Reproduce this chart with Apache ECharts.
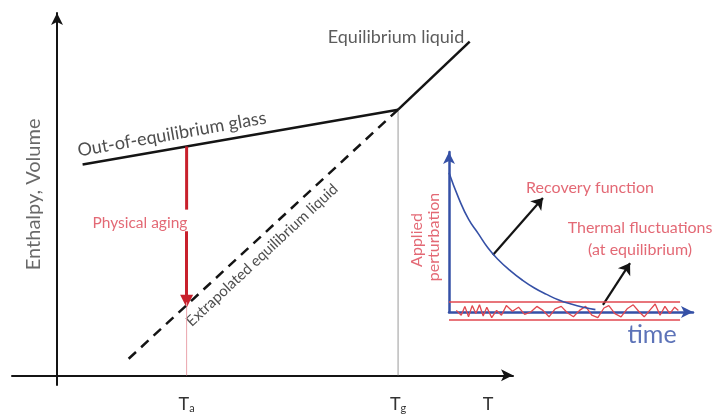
<!DOCTYPE html>
<html>
<head>
<meta charset="utf-8">
<script src="https://cdn.jsdelivr.net/npm/echarts@6/dist/echarts.min.js"></script>
<style>
  html, body { margin: 0; padding: 0; background: #fff; }
  #chart { width: 718px; height: 414px; }
</style>
</head>
<body>
<div id="chart"></div>
<script>
// ---- Main diagram: enthalpy/volume vs temperature (arbitrary units, Tg = 10) ----
const tickValues = [3.8, 10, 12.64];
const tickLabels = ['{m|T}{s|a}', '{m|T}{s|g}', '{m|T}'];

const glassLine = [[0.75, 6.35], [10, 8.0]];
const liquidLine = [[10, 8.0], [12.1, 10.05]];
const extrapolatedLine = [[2.1, 0.5], [10, 8.0]];
const tgGuide = [[10, 0], [10, 8.0]];
const taGuide = [[3.8, 0], [3.8, 2.2]];
const agingUpper = [[3.8, 6.89], [3.8, 4.99]];
const agingLower = [[3.8, 4.34], [3.8, 2.23]];

const mainTexts = ['Out-of-equilibrium glass', 'Equilibrium liquid', 'Extrapolated equilibrium liquid', 'Enthalpy, Volume', 'Physical aging'];
const mainTextAt = [[3.37, 7.26], [9.94, 10.18], [6.01, 3.62], [-0.7, 5.45], [2.43, 4.6]];

// ---- Inset: relaxation after a perturbation vs time ----
const recoveryCurve = [
  [0, 8.7], [0.4, 7.1], [0.8, 5.8], [1.2, 4.9], [1.6, 4.0], [2.0, 3.3], [2.5, 2.6],
  [3.0, 2.0], [3.5, 1.5], [4.0, 1.1], [4.5, 0.75], [5.0, 0.5], [5.5, 0.3], [6.0, 0.15]
];
const fluctuation = [
  [0.3, 0.1], [0.5, -0.2], [0.65, 0.35], [0.8, -0.3], [0.95, 0.4], [1.1, -0.1], [1.25, 0.45],
  [1.4, -0.25], [1.55, 0.3], [1.75, -0.35], [1.95, 0.1], [2.15, -0.2], [2.35, 0.4], [2.6, 0.05],
  [2.85, 0.3], [3.1, -0.15], [3.35, 0.0], [3.6, 0.35], [3.85, 0.1], [4.1, -0.3], [4.35, 0.2],
  [4.6, 0.35], [4.85, -0.05], [5.1, -0.3], [5.35, 0.1], [5.6, 0.35], [5.85, -0.2], [6.1, -0.35],
  [6.35, 0.25], [6.55, 0.4], [6.8, -0.1], [7.05, -0.3], [7.3, 0.2], [7.55, 0.45], [7.8, 0.0],
  [8.0, -0.3], [8.25, 0.15], [8.45, 0.5], [8.65, -0.2], [8.85, 0.35], [9.05, -0.1], [9.25, 0.3], [9.4, 0.1]
];
const bandUpper = [[0, 0.62], [9.47, 0.62]];
const bandLower = [[0, -0.5], [9.47, -0.5]];
const pointerArrows = [
  [[1.8, 3.56], [3.85, 7.13]],
  [[6.31, 0.44], [7.42, 3.06]]
];
const insetTexts = ['Recovery function', 'Thermal fluctuations', '(at equilibrium)', 'Applied', 'perturbation', 'time'];
const insetTextAt = [[5.78, 7.75], [7.83, 5.25], [7.83, 3.88], [-1.31, 4.5], [-0.64, 4.69], [8.32, -1.44]];

const FONT = 'Lato, "Open Sans", sans-serif';
const BLACK = '#141414';
const RED = '#c8202c';
const RED_TEXT = '#dc4452';
const BLUE = '#3550a6';

const mainTextStyle = [
  { rotate: 10, fontSize: 18, color: '#222' },
  { rotate: 0, fontSize: 18, color: '#333' },
  { rotate: 43, fontSize: 15, color: '#222' },
  { rotate: 90, fontSize: 20, color: '#444' },
  { rotate: 0, fontSize: 15.5, color: RED_TEXT }
];
const insetTextStyle = [
  { rotate: 0, fontSize: 16, color: RED_TEXT },
  { rotate: 0, fontSize: 16, color: RED_TEXT },
  { rotate: 0, fontSize: 16, color: RED_TEXT },
  { rotate: 90, fontSize: 16, color: RED_TEXT },
  { rotate: 90, fontSize: 16, color: RED_TEXT },
  { rotate: 0, fontSize: 25, color: BLUE }
];

function segment(data, style, gridIndex, extra) {
  return Object.assign({
    type: 'line', data: data, xAxisIndex: gridIndex, yAxisIndex: gridIndex,
    symbol: 'none', silent: true, clip: false, lineStyle: style
  }, extra || {});
}

function textSeries(names, anchors, styles, gridIndex) {
  return {
    type: 'scatter', xAxisIndex: gridIndex, yAxisIndex: gridIndex, symbolSize: 0, silent: true, clip: false,
    data: names.map((n, i) => ({
      name: n, value: anchors[i],
      label: {
        show: true, formatter: '{b}', position: 'inside', align: 'center', verticalAlign: 'middle',
        fontFamily: FONT, rotate: styles[i].rotate, fontSize: styles[i].fontSize, color: styles[i].color
      }
    }))
  };
}

const chart = echarts.init(document.getElementById('chart'), null, { renderer: 'canvas' });

chart.setOption({
  animation: false,
  backgroundColor: '#ffffff',
  grid: [
    { left: 12, top: 13, width: 501, height: 382 },
    { left: 449, top: 152, width: 244, height: 160 }
  ],
  xAxis: [
    {
      gridIndex: 0, type: 'value', min: -1.32, max: 13.37,
      splitLine: { show: false },
      axisTick: { show: false },
      axisLine: { show: true, onZero: true, symbol: ['none', 'arrow'], symbolSize: [9, 12], lineStyle: { color: BLACK, width: 2 } },
      axisLabel: {
        show: true, customValues: tickValues, margin: 10,
        formatter: v => { const i = tickValues.findIndex(t => Math.abs(t - v) < 1e-6); return i >= 0 ? tickLabels[i] : ''; },
        rich: {
          m: { fontFamily: FONT, fontSize: 18, color: '#333' },
          s: { fontFamily: FONT, fontSize: 11, color: '#333', verticalAlign: 'bottom', padding: [8, 0, 0, 0] }
        }
      }
    },
    {
      gridIndex: 1, type: 'value', min: 0, max: 10,
      splitLine: { show: false }, axisTick: { show: false }, axisLabel: { show: false },
      axisLine: { show: true, onZero: true, symbol: ['none', 'arrow'], symbolSize: [9, 12], lineStyle: { color: BLUE, width: 2.5 } }
    }
  ],
  yAxis: [
    {
      gridIndex: 0, type: 'value', min: -0.29, max: 10.91,
      splitLine: { show: false }, axisTick: { show: false }, axisLabel: { show: false },
      axisLine: { show: true, onZero: true, symbol: ['none', 'arrow'], symbolSize: [9, 12], lineStyle: { color: BLACK, width: 2 } }
    },
    {
      gridIndex: 1, type: 'value', min: 0, max: 10,
      splitLine: { show: false }, axisTick: { show: false }, axisLabel: { show: false },
      axisLine: { show: true, onZero: true, symbol: ['none', 'arrow'], symbolSize: [9, 12], lineStyle: { color: BLUE, width: 2.5 } }
    }
  ],
  series: [
    // guides at Tg and Ta
    segment(tgGuide, { color: '#9a9a9a', width: 1 }, 0),
    segment(taGuide, { color: '#eaa4ac', width: 1 }, 0),
    // glass, liquid and its extrapolation
    segment(glassLine, { color: BLACK, width: 2.5 }, 0),
    segment(liquidLine, { color: BLACK, width: 2.5 }, 0),
    segment(extrapolatedLine, { color: BLACK, width: 2.5, type: [10, 7] }, 0),
    // physical aging arrow (split around its label)
    segment(agingUpper, { color: RED, width: 3 }, 0),
    {
      type: 'lines', coordinateSystem: 'cartesian2d', xAxisIndex: 0, yAxisIndex: 0, silent: true,
      symbol: ['none', 'triangle'], symbolSize: [0, 13],
      lineStyle: { color: RED, width: 3, opacity: 1 },
      data: [{ coords: agingLower }]
    },
    textSeries(mainTexts, mainTextAt, mainTextStyle, 0),

    // inset
    segment(bandUpper, { color: '#e0474f', width: 1.5 }, 1),
    segment(bandLower, { color: '#e0474f', width: 1.5 }, 1),
    segment(fluctuation, { color: '#e0474f', width: 1.3 }, 1),
    segment(recoveryCurve, { color: BLUE, width: 1.6 }, 1, { smooth: true }),
    {
      type: 'lines', coordinateSystem: 'cartesian2d', xAxisIndex: 1, yAxisIndex: 1, silent: true,
      symbol: ['none', 'arrow'], symbolSize: [0, 11],
      lineStyle: { color: BLACK, width: 2.2, opacity: 1 },
      data: pointerArrows.map(c => ({ coords: c }))
    },
    textSeries(insetTexts, insetTextAt, insetTextStyle, 1)
  ]
});
</script>
</body>
</html>
